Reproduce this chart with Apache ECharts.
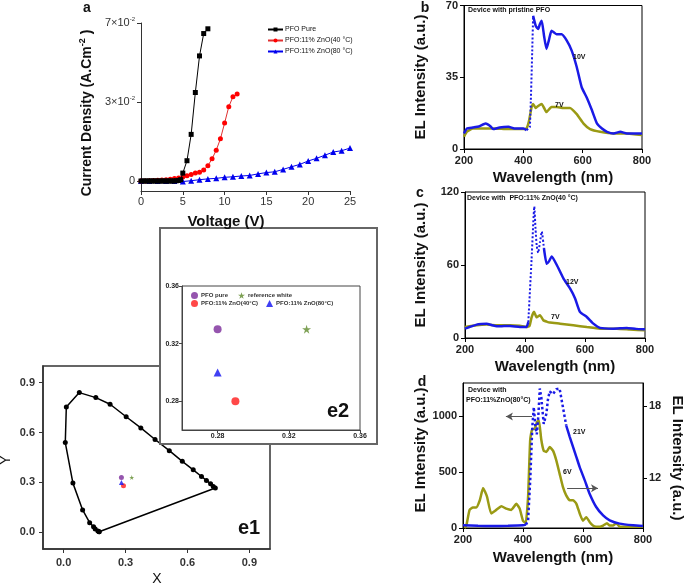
<!DOCTYPE html>
<html>
<head>
<meta charset="utf-8">
<script src="https://cdn.jsdelivr.net/npm/echarts@6/dist/echarts.min.js"></script>
<style>html,body{margin:0;padding:0;background:#fff;}#chart{width:685px;height:585px;}</style>
</head>
<body>
<div id="chart"></div>
<script>
// ---------- Panel a: J-V curves (values in axis units; ticks labelled 0, 3x10^-2, 7x10^-2)
var aPureV = [0,0.25,0.5,0.75,1,1.25,1.5,1.75,2,2.25,2.5,2.75,3,3.25,3.5,3.75,4,4.25,4.5,4.75,5,5.5,6,6.5,7,7.5,8];
var aPureJ = [0,0,0,0,0,0,0,0,0,0,0,0,0,0,0,0,0,0.01,0.02,0.05,0.3,0.77,1.77,3.36,4.75,5.6,5.78];
var aRedV = [0,0.5,1,1.5,2,2.5,3,3.5,4,4.5,5,5.5,6,6.5,7,7.5,8,8.5,9,9.5,10,10.5,11,11.5];
var aRedJ = [0,0,0.01,0.02,0.03,0.04,0.05,0.07,0.09,0.11,0.15,0.2,0.25,0.3,0.33,0.42,0.58,0.84,1.17,1.6,2.2,2.82,3.2,3.3];
var aBlueV = [0,1,2,3,4,5,6,7,8,9,10,11,12,13,14,15,16,17,18,19,20,21,22,23,24,25];
var aBlueJ = [0,0,0,0,0,-0.02,0.01,0.05,0.08,0.1,0.14,0.16,0.19,0.21,0.27,0.32,0.35,0.44,0.54,0.63,0.76,0.86,0.98,1.1,1.15,1.25];
var aYTicks = [0,3,6];
var aYTickText = ['0','3\u00d710{s|-2}','7\u00d710{s|-2}'];

// ---------- Panel b: pristine PFO
var b10Wl = [200,210,230,250,273,290,298,320,350,370,390,400,411,422,433,442,450,456,462,470,478,486,495,512,529,546,563,580,597,614,631,648,665,682,704,727,749,772,800];
var b10V  = [7.6,10,10.5,11,12.4,11,9.7,10.5,10.8,10,10,10,9.2,10.8,65,60,58.5,61,62.6,55,48.8,53,57.7,56,56,53,48,40,30,25,19,12.5,10,8.4,7.6,8.4,7.6,7.6,7.6];
var b7Wl = [200,210,230,260,300,350,390,410,418,428,433,442,450,462,470,478,495,512,535,557,580,603,625,659,704,749,800];
var b7V  = [6,8.5,10,10,10,9.7,9.7,10,13,20.5,22,20,21,22,20,18,20.5,20.5,20,20,17,12.4,9.7,8.4,7.6,7.6,6.8];

// ---------- Panel c: PFO:11% ZnO (40 C)
var c12Wl = [200,215,239,255,272,290,306,330,350,383,405,411,422,431,435,439,444,450,456,463,472,480,489,506,528,550,567,583,606,628,650,694,739,770,800];
var c12V  = [7.7,9,11,11.5,11.8,10.5,9.6,9.8,9.9,9.1,9.1,13,65,108,90,76,70,79,87.5,74,61,63,67,60,49,40.7,32.5,21.5,17.3,11.8,8.3,7.7,8.3,7.5,7.2];
var c7Wl = [200,239,272,306,350,383,405,415,422,430,439,450,461,472,483,517,561,606,650,706,750,800];
var c7V  = [9,10.5,11,10.5,10.5,10,9,10,17,21.5,17,18.7,14.6,13.5,12.7,11.8,10.5,9,7.7,7.7,7,6.3];

// ---------- Panel d: PFO:11% ZnO (80 C)
var d21Wl = [200,250,300,350,400,410,417,424,431,436,441,446,451,456,461,469,478,483,489,500,511,522,533,544,556,567,578,589,606,622,644,667,689,722,767,800];
var d21V  = [24,20,18,20,24,30,69,427,905,1084,920,840,1000,1250,1173,934,1024,1150,1225,1200,1245,1250,1084,919,815,725,636,546,427,307,188,113,69,39,24,18];
var d6Wl = [205,211,222,233,244,256,267,280,294,311,328,344,361,378,389,400,409,417,424,431,439,447,453,461,469,478,489,500,511,522,533,544,556,567,578,589,600,611,622,633,644,656,667,680,689,700,711,722,760,800];
var d6V  = [7.9,8.1,9.4,9.6,9.6,10.2,11.2,10.5,9.1,9.4,9.7,9.5,9.4,9.9,9.5,8.5,8.3,10.5,15.2,16.1,16.1,16.7,16.8,15.2,14.3,14.2,14.6,14.3,13.5,12.4,11.3,10.6,10.2,10.2,9.9,9.1,8.5,8.8,8.4,8.1,8.0,8.0,8.1,8.3,8.1,8.1,8.3,8.0,8.0,8.0];
var dLeftTicks = [0,500,1000];
var dRightTicks = [12,18];

// ---------- Panel e1: CIE diagram
var cieX = [0.172,0.166,0.153,0.145,0.126,0.092,0.045,0.008,0.013,0.076,0.156,0.225,0.303,0.374,0.443,0.512,0.575,0.628,0.668,0.692,0.712,0.725,0.735,0.172];
var cieY = [0.004,0.008,0.02,0.034,0.058,0.135,0.296,0.54,0.753,0.84,0.81,0.77,0.695,0.628,0.558,0.491,0.427,0.376,0.336,0.312,0.292,0.276,0.267,0.004];
var e1Ticks = [0,0.3,0.6,0.9];
// chromaticity points: PFO pure, reference white, 40C, 80C
var ptNames = ['PFO pure','reference white','PFO:11% ZnO(40\u00b0C)','PFO:11% ZnO(80\u00b0C)'];
var ptX = [0.28,0.33,0.29,0.28];
var ptY = [0.33,0.33,0.28,0.30];
var e2Ticks = [0.28,0.32,0.36];

// ---------- helpers
function zip(a,b){ var r=[]; for(var i=0;i<a.length;i++) r.push([a[i],b[i]]); return r; }
function splitAt(pairs, lo, hi){
  var i0 = -1, i1 = -1;
  for (var i=0;i<pairs.length;i++){ if(pairs[i][0]===lo) i0=i; if(pairs[i][0]===hi) i1=i; }
  return [pairs.slice(0,i0+1), pairs.slice(i0,i1+1), pairs.slice(i1)];
}
var FONT = "'Liberation Sans', Arial, sans-serif";
var BLUE = '#1a1ae6', OLIVE = '#9a9a14';
var STAR = 'path://M50,0 L61,35 L98,35 L68,57 L79,91 L50,70 L21,91 L32,57 L2,35 L39,35 Z';
var ptSymbols = ['circle', STAR, 'circle', 'triangle'];
var ptColors = ['#7a2a9a', '#5e8a2a', '#ff1a1a', '#1010f0'];

function specX(gi){
  return {gridIndex:gi, type:'value', min:200, max:800, interval:200,
    axisLine:{onZero:false, lineStyle:{color:'#000', width:1}},
    axisTick:{length:4, lineStyle:{color:'#000'}},
    axisLabel:{fontFamily:FONT, fontWeight:'bold', fontSize:11, color:'#222', margin:6},
    splitLine:{show:false}};
}
function specY(gi, max, interval){
  return {gridIndex:gi, type:'value', min:0, max:max, interval:interval,
    axisLine:{onZero:false, lineStyle:{color:'#000', width:1}},
    axisTick:{length:4, lineStyle:{color:'#000'}},
    axisLabel:{fontFamily:FONT, fontWeight:'bold', fontSize:11, color:'#222', margin:6},
    splitLine:{show:false}};
}

var bParts = splitAt(zip(b10Wl,b10V), 411, 433);
var cParts = splitAt(zip(c12Wl,c12V), 411, 463);
var dParts = splitAt(zip(d21Wl,d21V), 410, 544);

var option = {
  animation:false,
  backgroundColor:'#fff',
  grid:[
    {left:141, top:23, width:209, height:168},
    {left:464, top:5, width:178, height:144, show:true, borderColor:'#000', borderWidth:1, backgroundColor:'transparent'},
    {left:465, top:192, width:180, height:146, show:true, borderColor:'#000', borderWidth:1, backgroundColor:'transparent'},
    {left:463, top:383, width:180, height:145, show:true, borderColor:'#000', borderWidth:1, backgroundColor:'transparent'},
    {left:43, top:366, width:227, height:183, show:true, borderColor:'#333', borderWidth:1.5, backgroundColor:'transparent'},
    {left:182, top:286, width:178, height:144, show:true, borderColor:'#444', borderWidth:1, backgroundColor:'transparent', z:12}
  ],
  xAxis:[
    {gridIndex:0, type:'value', min:0, max:25, interval:5,
      axisLine:{onZero:false, lineStyle:{color:'#333'}}, axisTick:{length:4, lineStyle:{color:'#333'}},
      axisLabel:{fontFamily:FONT, fontSize:11, color:'#333', margin:5}, splitLine:{show:false}},
    specX(1), specX(2), specX(3),
    {gridIndex:4, type:'value', min:-0.1, max:1.0,
      axisLine:{onZero:false, lineStyle:{color:'#333', width:1.5}},
      axisTick:{customValues:e1Ticks, length:4, lineStyle:{color:'#333'}},
      axisLabel:{customValues:e1Ticks, formatter:function(v){return v.toFixed(1);}, fontFamily:FONT, fontWeight:'bold', fontSize:11, color:'#333', margin:8},
      splitLine:{show:false}},
    {gridIndex:5, type:'value', min:0.26, max:0.36, z:12,
      axisLine:{onZero:false, lineStyle:{color:'#444'}},
      axisTick:{customValues:e2Ticks, length:3, lineStyle:{color:'#444'}},
      axisLabel:{customValues:e2Ticks, formatter:function(v){return v.toFixed(2);}, fontFamily:FONT, fontWeight:'bold', fontSize:7, color:'#222', margin:3},
      splitLine:{show:false}}
  ],
  yAxis:[
    {gridIndex:0, type:'value', min:-0.38, max:6,
      axisLine:{onZero:false, lineStyle:{color:'#333'}},
      axisTick:{customValues:aYTicks, length:4, lineStyle:{color:'#333'}},
      axisLabel:{customValues:aYTicks, formatter:function(v){ return aYTickText[aYTicks.indexOf(v)]; },
        fontFamily:FONT, fontSize:11, color:'#333', margin:6,
        rich:{s:{fontSize:6, fontFamily:FONT, color:'#333', padding:[0,0,7,0]}}},
      splitLine:{show:false}},
    specY(1, 70, 35),
    specY(2, 120, 60),
    {gridIndex:3, type:'value', min:0, max:1300,
      axisLine:{onZero:false, lineStyle:{color:'#000'}},
      axisTick:{customValues:dLeftTicks, length:4, lineStyle:{color:'#000'}},
      axisLabel:{customValues:dLeftTicks, formatter:function(v){return String(v);}, fontFamily:FONT, fontWeight:'bold', fontSize:11, color:'#222', margin:6},
      splitLine:{show:false}},
    {gridIndex:3, type:'value', position:'right', min:7.9, max:19.9,
      axisLine:{onZero:false, lineStyle:{color:'#000'}},
      axisTick:{customValues:dRightTicks, length:4, lineStyle:{color:'#000'}},
      axisLabel:{customValues:dRightTicks, formatter:function(v){return String(v);}, fontFamily:FONT, fontWeight:'bold', fontSize:11, color:'#222', margin:6},
      splitLine:{show:false}},
    {gridIndex:4, type:'value', min:-0.1, max:1.0,
      axisLine:{onZero:false, lineStyle:{color:'#333', width:1.5}},
      axisTick:{customValues:e1Ticks, length:4, lineStyle:{color:'#333'}},
      axisLabel:{customValues:e1Ticks, formatter:function(v){return v.toFixed(1);}, fontFamily:FONT, fontWeight:'bold', fontSize:11, color:'#333', margin:8},
      splitLine:{show:false}},
    {gridIndex:5, type:'value', min:0.26, max:0.36, z:12,
      axisLine:{onZero:false, lineStyle:{color:'#444'}},
      axisTick:{customValues:e2Ticks, length:3, lineStyle:{color:'#444'}},
      axisLabel:{customValues:e2Ticks, formatter:function(v){return v.toFixed(2);}, fontFamily:FONT, fontWeight:'bold', fontSize:7, color:'#222', margin:3},
      splitLine:{show:false}}
  ],
  legend:[
    {data:['PFO Pure','PFO:11% ZnO(40 \u00b0C)','PFO:11% ZnO(80 \u00b0C)'], orient:'vertical', left:262, top:21,
      itemWidth:15, itemHeight:5, itemGap:4, textStyle:{fontFamily:FONT, fontSize:7, color:'#111', padding:[0,0,0,-3]}, selectedMode:false},
    {data:['PFO pure','reference white'], orient:'horizontal', left:186, top:287, z:20,
      itemWidth:7, itemHeight:7, itemGap:10, textStyle:{fontFamily:FONT, fontSize:6, fontWeight:'bold', color:'#333', padding:[0,0,0,-2]}, selectedMode:false},
    {data:['PFO:11% ZnO(40\u00b0C)','PFO:11% ZnO(80\u00b0C)'], orient:'horizontal', left:186, top:295, z:20,
      itemWidth:7, itemHeight:7, itemGap:8, textStyle:{fontFamily:FONT, fontSize:6, fontWeight:'bold', color:'#333', padding:[0,0,0,-2]}, selectedMode:false}
  ],
  series:[],
  graphic:[]
};

var S = option.series;
// Panel a
S.push({name:'PFO:11% ZnO(80 \u00b0C)', type:'line', xAxisIndex:0, yAxisIndex:0, data:zip(aBlueV,aBlueJ),
  symbol:'triangle', symbolSize:6, itemStyle:{color:'#0000ee'}, lineStyle:{color:'#0000ee', width:1}, z:2});
S.push({name:'PFO:11% ZnO(40 \u00b0C)', type:'line', xAxisIndex:0, yAxisIndex:0, data:zip(aRedV,aRedJ),
  symbol:'circle', symbolSize:5, itemStyle:{color:'#ff0000'}, lineStyle:{color:'#e03030', width:1}, z:3});
S.push({name:'PFO Pure', type:'line', xAxisIndex:0, yAxisIndex:0, data:zip(aPureV,aPureJ),
  symbol:'rect', symbolSize:5, itemStyle:{color:'#000'}, lineStyle:{color:'#000', width:1}, z:4});

function spec(name, xi, yi, data, color, type, width, z, sm){
  return {name:name, type:'line', xAxisIndex:xi, yAxisIndex:yi, data:data, showSymbol:false, symbol:'none',
    smooth:(sm===undefined?0.15:sm), lineStyle:{color:color, width:width, type:type}, itemStyle:{color:color}, z:z||2};
}
// Panel b
S.push(spec('b 7V', 1, 1, zip(b7Wl,b7V), OLIVE, 'solid', 2.5, 2));
S.push(spec('b 10V a', 1, 1, bParts[0], BLUE, 'solid', 2.5, 3));
S.push(spec('b 10V b', 1, 1, bParts[1], BLUE, 'dotted', 2, 3));
S.push(spec('b 10V c', 1, 1, bParts[2], BLUE, 'solid', 2.5, 3));
// Panel c
S.push(spec('c 7V', 2, 2, zip(c7Wl,c7V), OLIVE, 'solid', 2.5, 2));
S.push(spec('c 12V a', 2, 2, cParts[0], BLUE, 'solid', 2.5, 3));
S.push(spec('c 12V b', 2, 2, cParts[1], BLUE, 'dotted', 2, 3));
S.push(spec('c 12V c', 2, 2, cParts[2], BLUE, 'solid', 2.5, 3));
// Panel d
S.push(spec('d 6V', 3, 4, zip(d6Wl,d6V), OLIVE, 'solid', 2.5, 2));
S.push(spec('d 21V a', 3, 3, dParts[0], BLUE, 'solid', 2.5, 3));
var dMid = spec('d 21V b', 3, 3, dParts[1], BLUE, 'dotted', 2.5, 3, false);
dMid.markLine = {silent:true, symbol:['none','arrow'], symbolSize:[6,7], precision:3,
  lineStyle:{color:'#555', width:1, type:'solid'}, label:{show:false},
  data:[[{coord:[430,1000]},{coord:[343,1000]}],[{coord:[547,356]},{coord:[650,356]}]]};
S.push(dMid);
S.push(spec('d 21V c', 3, 3, dParts[2], BLUE, 'solid', 2.5, 3));

// Panel e1
S.push({name:'CIE locus', type:'line', xAxisIndex:4, yAxisIndex:5, data:zip(cieX,cieY),
  symbol:'circle', symbolSize:5, itemStyle:{color:'#000'}, lineStyle:{color:'#000', width:1.5}, z:2});
for (var k=0;k<ptNames.length;k++){
  S.push({name:'e1 '+ptNames[k], type:'scatter', xAxisIndex:4, yAxisIndex:5, data:[[ptX[k],ptY[k]]],
    symbol:ptSymbols[k], symbolSize:5, itemStyle:{color:ptColors[k]}, z:3});
}
// Panel e2
for (var k2=0;k2<ptNames.length;k2++){
  S.push({name:ptNames[k2], type:'scatter', xAxisIndex:5, yAxisIndex:6, data:[[ptX[k2],ptY[k2]]],
    symbol:ptSymbols[k2], symbolSize:(k2===1?9:8), itemStyle:{color:ptColors[k2]}, z:14});
}

var G = option.graphic;
function txt(x,y,t,size,bold,extra){
  var o = {type:'text', x:x, y:y, z:30, style:{text:t, fontFamily:FONT, fontSize:size, fontWeight:bold?'bold':'normal', fill:'#111', align:'center', verticalAlign:'middle'}};
  if (extra){ for (var key in extra){ if(key==='style'){ for (var s in extra.style) o.style[s]=extra.style[s]; } else o[key]=extra[key]; } }
  return o;
}
G.push({type:'rect', z:5, shape:{x:160, y:228, width:217, height:216}, style:{fill:'#fff', stroke:'#666', lineWidth:2}});

G.push(txt(87,8,'a',14,true));
G.push(txt(87,113,'{n|Current Density (A.Cm}{s|-2}{n| )}',14,true,{rotation:Math.PI/2,
  style:{rich:{n:{fontFamily:FONT, fontSize:14, fontWeight:'bold', fill:'#111'}, s:{fontFamily:FONT, fontSize:9, fontWeight:'bold', fill:'#111', padding:[0,0,9,0]}}}}));
G.push(txt(226,222,'Voltage (V)',15,true));
G.push(txt(425,8,'b',14,true));
G.push(txt(421,77,'EL Intensity (a.u.)',15,true,{rotation:Math.PI/2}));
G.push(txt(553,178,'Wavelength (nm)',15,true));
G.push(txt(468,10,'Device with pristine PFO',7,true,{style:{align:'left'}}));
G.push(txt(573,57,'10V',7,true,{style:{align:'left'}}));
G.push(txt(555,105,'7V',7,true,{style:{align:'left'}}));
G.push(txt(420,193,'c',14,true));
G.push(txt(421,265,'EL Intensity (a.u.)',15,true,{rotation:Math.PI/2}));
G.push(txt(555,367,'Wavelength (nm)',15,true));
G.push(txt(467,198,'Device with  PFO:11% ZnO(40 \u00b0C)',7,true,{style:{align:'left'}}));
G.push(txt(566,282,'12V',7,true,{style:{align:'left'}}));
G.push(txt(551,317,'7V',7,true,{style:{align:'left'}}));
G.push(txt(422,382,'d',14,true));
G.push(txt(421,450,'EL Intensity (a.u.)',15,true,{rotation:Math.PI/2}));
G.push(txt(677,458,'EL Intensity (a.u.)',15,true,{rotation:-Math.PI/2}));
G.push(txt(553,558,'Wavelength (nm)',15,true));
G.push(txt(468,390,'Device with',7,true,{style:{align:'left'}}));
G.push(txt(466,400,'PFO:11%ZnO(80\u00b0C)',7,true,{style:{align:'left'}}));
G.push(txt(573,432,'21V',7,true,{style:{align:'left'}}));
G.push(txt(563,472,'6V',7,true,{style:{align:'left'}}));
G.push(txt(6,460,'Y',14,false,{rotation:Math.PI/2}));
G.push(txt(157,579,'X',14,false));
G.push(txt(249,528,'e1',20,true,{z:3}));
G.push(txt(338,411,'e2',20,true));

var chart = echarts.init(document.getElementById('chart'), null, {renderer:'canvas'});
chart.setOption(option);
</script>
</body>
</html>
